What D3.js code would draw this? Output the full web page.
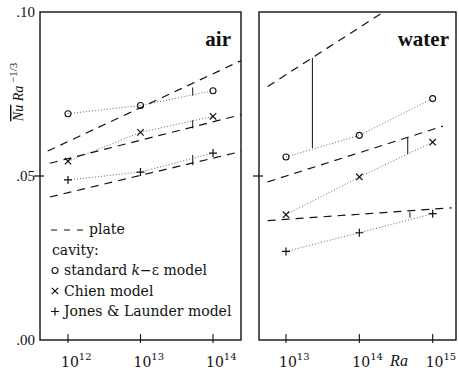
<!DOCTYPE html>
<html>
<head>
<meta charset="utf-8">
<script src="https://cdn.jsdelivr.net/npm/d3@7"></script>
<style>
  html, body { margin: 0; padding: 0; background: #fff; }
  svg { display: block; }
  text { font-family: "Liberation Serif", "DejaVu Serif", serif; fill: #111; }
  .wide { font-family: "DejaVu Serif", "Liberation Serif", serif; }
</style>
</head>
<body>
<svg id="chart" width="459" height="377"></svg>
<script>
// Rayleigh-number exponents of the computed cavity cases
const airExponents = [12, 13, 14];
const waterExponents = [13, 14, 15];

// Mean Nusselt number scaled by Ra^(-1/3), cavity results
const airKEpsilon = [0.0690, 0.0715, 0.0760];
const airChien = [0.0545, 0.0633, 0.0682];
const airJonesLaunder = [0.0488, 0.0512, 0.0570];

const waterKEpsilon = [0.0558, 0.0624, 0.0736];
const waterChien = [0.0382, 0.0497, 0.0603];
const waterJonesLaunder = [0.0270, 0.0327, 0.0385];

// Plate correlations: [log10 Ra, Nu Ra^-1/3] end points of each dashed line
const airPlateUpper = [[11.72, 0.0576], [14.39, 0.0852]];
const airPlateMiddle = [[11.75, 0.0539], [14.39, 0.0687]];
const airPlateLower = [[11.75, 0.0436], [14.39, 0.0575]];
const waterPlateUpper = [[12.75, 0.0773], [14.40, 0.1010]];
const waterPlateMiddle = [[12.75, 0.0482], [15.14, 0.0652]];
const waterPlateLower = [[12.75, 0.0364], [15.26, 0.0403]];

// Vertical markers on the plate curves: [log10 Ra, bottom value, top value]
const airMarks = [[13.72, 0.0745, 0.0770], [13.72, 0.0645, 0.0670], [13.72, 0.0533, 0.0564]];
const waterMarks = [[13.36, 0.0585, 0.0860], [14.66, 0.0567, 0.0618], [14.69, 0.0373, 0.0390]];

// Axis labels
const yTickValues = [0.00, 0.05, 0.10];
const yTickLabels = [".00", ".05", ".10"];
const legendLines = ["plate", "cavity:", "standard k\u2212\u03b5 model", "Chien model", "Jones & Launder model"];

const svg = d3.select("#chart");
const y = d3.scaleLinear().domain([0, 0.1]).range([340, 12]);

const panels = [
  { name: "air", left: 40, right: 241, domain: [11.614, 14.386], exps: airExponents,
    series: [airKEpsilon, airChien, airJonesLaunder],
    plates: [airPlateUpper, airPlateMiddle, airPlateLower], marks: airMarks,
    title: "air", titleX: 231 },
  { name: "water", left: 259, right: 456, domain: [12.632, 15.318], exps: waterExponents,
    series: [waterKEpsilon, waterChien, waterJonesLaunder],
    plates: [waterPlateUpper, waterPlateMiddle, waterPlateLower], marks: waterMarks,
    title: "water", titleX: 449 }
];

const markerShapes = ["circle", "cross", "plus"];

function drawMarker(g, shape, cx, cy) {
  if (shape === "circle") {
    g.append("circle").attr("cx", cx).attr("cy", cy).attr("r", 3)
      .attr("fill", "none").attr("stroke", "#111").attr("stroke-width", 1.1);
  } else if (shape === "cross") {
    const s = 3.2;
    g.append("path").attr("d", `M${cx - s},${cy - s}L${cx + s},${cy + s}M${cx - s},${cy + s}L${cx + s},${cy - s}`)
      .attr("stroke", "#111").attr("stroke-width", 1.2);
  } else {
    const s = 4;
    g.append("path").attr("d", `M${cx - s},${cy}L${cx + s},${cy}M${cx},${cy - s}L${cx},${cy + s}`)
      .attr("stroke", "#111").attr("stroke-width", 1.2);
  }
}

panels.forEach((p) => {
  const x = d3.scaleLog()
    .domain([Math.pow(10, p.domain[0]), Math.pow(10, p.domain[1])])
    .range([p.left, p.right]);
  const g = svg.append("g");

  const clipId = "clip-" + p.name;
  svg.append("clipPath").attr("id", clipId)
    .append("rect").attr("x", p.left).attr("y", y(0.1))
    .attr("width", p.right - p.left).attr("height", y(0) - y(0.1));

  const plot = g.append("g").attr("clip-path", `url(#${clipId})`);

  // plate correlations (dashed)
  const plateLine = d3.line().x(d => x(Math.pow(10, d[0]))).y(d => y(d[1]));
  p.plates.forEach(pl => {
    plot.append("path").attr("d", plateLine(pl))
      .attr("fill", "none").attr("stroke", "#111").attr("stroke-width", 1.2)
      .attr("stroke-dasharray", "8,6");
  });

  // vertical markers
  p.marks.forEach(m => {
    plot.append("line")
      .attr("x1", x(Math.pow(10, m[0]))).attr("x2", x(Math.pow(10, m[0])))
      .attr("y1", y(m[1])).attr("y2", y(m[2]))
      .attr("stroke", "#111").attr("stroke-width", 1);
  });

  // cavity series: dotted connectors and markers
  const seriesLine = d3.line().x((d, i) => x(Math.pow(10, p.exps[i]))).y(d => y(d));
  p.series.forEach((vals, si) => {
    plot.append("path").attr("d", seriesLine(vals))
      .attr("fill", "none").attr("stroke", "#555").attr("stroke-width", 0.9)
      .attr("stroke-dasharray", "1,2");
    vals.forEach((v, i) => drawMarker(plot, markerShapes[si], x(Math.pow(10, p.exps[i])), y(v)));
  });

  // frame
  g.append("rect").attr("x", p.left).attr("y", y(0.1))
    .attr("width", p.right - p.left).attr("height", y(0) - y(0.1))
    .attr("fill", "none").attr("stroke", "#111").attr("stroke-width", 1.4);

  // x ticks and labels
  p.exps.forEach(e => {
    const tx = x(Math.pow(10, e));
    g.append("line").attr("x1", tx).attr("x2", tx).attr("y1", y(0) - 6).attr("y2", y(0) + 3)
      .attr("stroke", "#111").attr("stroke-width", 1.1);
    const t = g.append("text").attr("class", "wide").attr("x", tx - 7).attr("y", 367)
      .attr("text-anchor", "start").attr("font-size", 14);
    t.append("tspan").text("10");
    t.append("tspan").attr("dy", -7).attr("font-size", 10).text(String(e));
  });

  // .05 tick crossing the left edge
  g.append("line").attr("x1", p.left - 6).attr("x2", p.left + 4)
    .attr("y1", y(0.05)).attr("y2", y(0.05)).attr("stroke", "#111").attr("stroke-width", 1.2);

  // panel title
  g.append("text").attr("x", p.titleX).attr("y", 46).attr("text-anchor", "end")
    .attr("font-size", 21).attr("font-weight", "bold").text(p.title);
});

// y tick labels
yTickValues.forEach((v, i) => {
  svg.append("text").attr("x", 35).attr("y", y(v) + 5).attr("text-anchor", "end")
    .attr("font-size", 15).text(yTickLabels[i]);
});

// y axis title: overlined Nu, Ra^-1/3
const yt = svg.append("text").attr("transform", "translate(23,92) rotate(-90)")
  .attr("text-anchor", "middle").attr("font-size", 14);
yt.append("tspan").attr("font-style", "italic").attr("text-decoration", "overline").text("Nu");
yt.append("tspan").attr("font-style", "italic").text(" Ra");
yt.append("tspan").attr("dy", -6).attr("font-size", 11).text(" \u22121/3");

// x axis name
svg.append("text").attr("x", 399).attr("y", 366).attr("text-anchor", "middle")
  .attr("font-size", 16).attr("font-style", "italic").text("Ra");

// legend
const lg = svg.append("g");
const lx = 51, ly0 = 234, dy = 20.5;
lg.append("line").attr("x1", lx).attr("x2", lx + 32).attr("y1", ly0 - 4).attr("y2", ly0 - 4)
  .attr("stroke", "#111").attr("stroke-width", 1.2).attr("stroke-dasharray", "6,7");
lg.append("text").attr("class", "wide").attr("x", lx + 38).attr("y", ly0).attr("font-size", 14).text(legendLines[0]);
lg.append("text").attr("class", "wide").attr("x", lx + 1).attr("y", ly0 + dy).attr("font-size", 14).text(legendLines[1]);
[2, 3, 4].forEach((k, j) => {
  const yy = ly0 + dy * k;
  drawMarker(lg, markerShapes[j], lx + 4, yy - 4.5);
  const t = lg.append("text").attr("class", "wide").attr("x", lx + 13).attr("y", yy).attr("font-size", 14);
  if (k === 2) {
    t.append("tspan").text("standard ");
    t.append("tspan").attr("font-style", "italic").text("k");
    t.append("tspan").text("\u2212\u03b5 model");
  } else {
    t.text(legendLines[k]);
  }
});
</script>
</body>
</html>
